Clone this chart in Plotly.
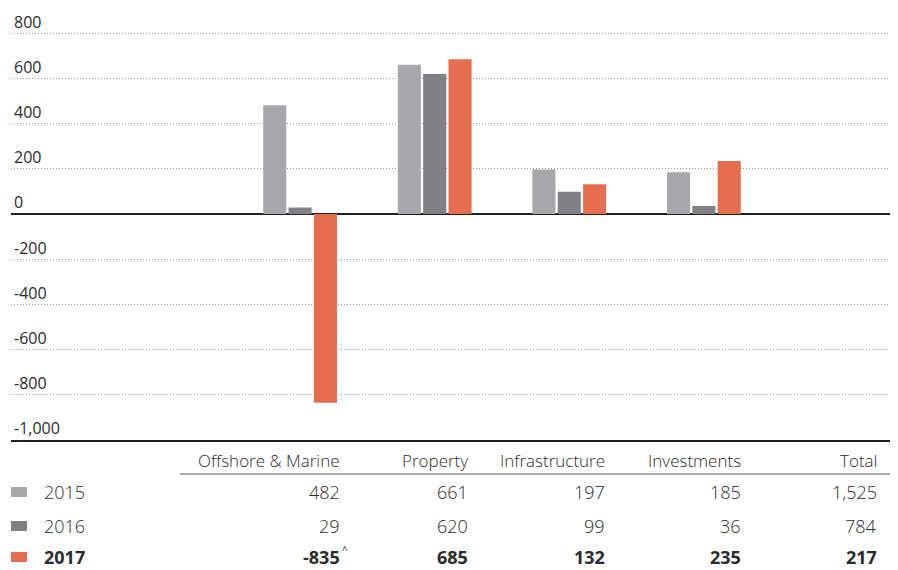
import plotly.graph_objects as go

categories = ["Offshore & Marine", "Property", "Infrastructure", "Investments", "Total"]
years = ["2015", "2016", "2017"]
values_2015 = [482, 661, 197, 185, 1525]
values_2016 = [29, 620, 99, 36, 784]
values_2017 = [-835, 685, 132, 235, 217]
table_labels_2015 = ["482", "661", "197", "185", "1,525"]
table_labels_2016 = ["29", "620", "99", "36", "784"]
table_labels_2017 = ["-835", "685", "132", "235", "217"]
plotted = [True, True, True, True, False]  # Total is not drawn as bars
colors = ["#a7a8ab", "#808184", "#e56e51"]
ytick_vals = [-1000, -800, -600, -400, -200, 0, 200, 400, 600, 800]
ytick_text = ["-1,000", "-800", "-600", "-400", "-200", "0", "200", "400", "600", "800"]

W, H = 898, 570
Y_MIN, Y_MAX = -1000, 806
L, R, B = 11, 8, 130
PLOT_BOTTOM = H - B          # pixel row of -1000
PX_PER_UNIT = (PLOT_BOTTOM - 33.5) / 1800.0
T = int(round(PLOT_BOTTOM - (Y_MAX - Y_MIN) * PX_PER_UNIT))
PW, PH = W - L - R, H - T - B
FONT = "Open Sans"
TXT = "#2b2b2b"


def px_x(px):
    return (px - L) / PW


def px_y(py):
    return (T + PH - py) / PH


fig = go.Figure()
series = [values_2015, values_2016, values_2017]
for yr, vals, col in zip(years, series, colors):
    fig.add_trace(go.Bar(
        x=categories,
        y=[v if p else None for v, p in zip(vals, plotted)],
        name=yr,
        marker=dict(color=col, line=dict(width=0)),
        showlegend=False,
        hoverinfo="x+y+name",
    ))

fig.update_layout(
    width=W, height=H,
    margin=dict(l=L, r=R, t=T, b=B, pad=0),
    paper_bgcolor="white", plot_bgcolor="white",
    barmode="group", bargap=0.435, bargroupgap=0.09,
    font=dict(family=FONT, size=16, color=TXT),
    xaxis=dict(
        type="category", range=[-2.148, 4.383],
        showticklabels=False, showgrid=False, zeroline=False,
        showline=True, linecolor="#231f20", linewidth=2, ticks="",
    ),
    yaxis=dict(
        range=[Y_MIN, Y_MAX], tickvals=ytick_vals, ticktext=ytick_text,
        ticklabelposition="inside top", ticklabeloverflow="allow",
        ticks="", ticklabelstandoff=0,
        showgrid=True, gridcolor="#9a9a9a", griddash="1px,2px", gridwidth=1,
        zeroline=True, zerolinecolor="#231f20", zerolinewidth=2,
        showline=False,
        tickfont=dict(family=FONT, size=16, color=TXT, weight=400),
    ),
)

# Table: header, column right edges in pixels
col_right = [342, 470, 607, 743, 879]
header_y = 460
row_y = [492, 526, 557]

for c, xr in zip(categories, col_right):
    fig.add_annotation(text=c, xref="paper", yref="paper", x=px_x(xr), y=px_y(header_y),
                       xanchor="right", yanchor="middle", showarrow=False,
                       font=dict(family=FONT, size=17, color=TXT, weight=300))

fig.add_shape(type="line", xref="paper", yref="paper",
              x0=px_x(180), x1=px_x(890), y0=px_y(474), y1=px_y(474),
              line=dict(color="#555555", width=1))

row_labels = [table_labels_2015, table_labels_2016, table_labels_2017]
for i, (yr, labels, col) in enumerate(zip(years, row_labels, colors)):
    bold = i == 2
    yy = px_y(row_y[i])
    fig.add_shape(type="rect", xref="paper", yref="paper",
                  x0=px_x(11), x1=px_x(27), y0=px_y(row_y[i] + 5), y1=px_y(row_y[i] - 5),
                  fillcolor=col, line=dict(width=0))
    fig.add_annotation(text=f"<b>{yr}</b>" if bold else yr, xref="paper", yref="paper",
                       x=px_x(42), y=yy, xanchor="left", yanchor="middle", showarrow=False,
                       font=dict(family=FONT, size=18, color=TXT, weight=300))
    for lab, xr in zip(labels, col_right):
        fig.add_annotation(text=f"<b>{lab}</b>" if bold else lab, xref="paper", yref="paper",
                           x=px_x(xr), y=yy, xanchor="right", yanchor="middle", showarrow=False,
                           font=dict(family=FONT, size=18, color=TXT, weight=300))

# footnote caret on -835
fig.add_annotation(text="^", xref="paper", yref="paper", x=px_x(340), y=px_y(550),
                   xanchor="left", yanchor="middle", showarrow=False,
                   font=dict(family=FONT, size=10, color=TXT))

fig.write_html("out.html", config={"displayModeBar": False},
               post_script="document.body.style.margin='0';document.body.style.overflow='hidden';")
